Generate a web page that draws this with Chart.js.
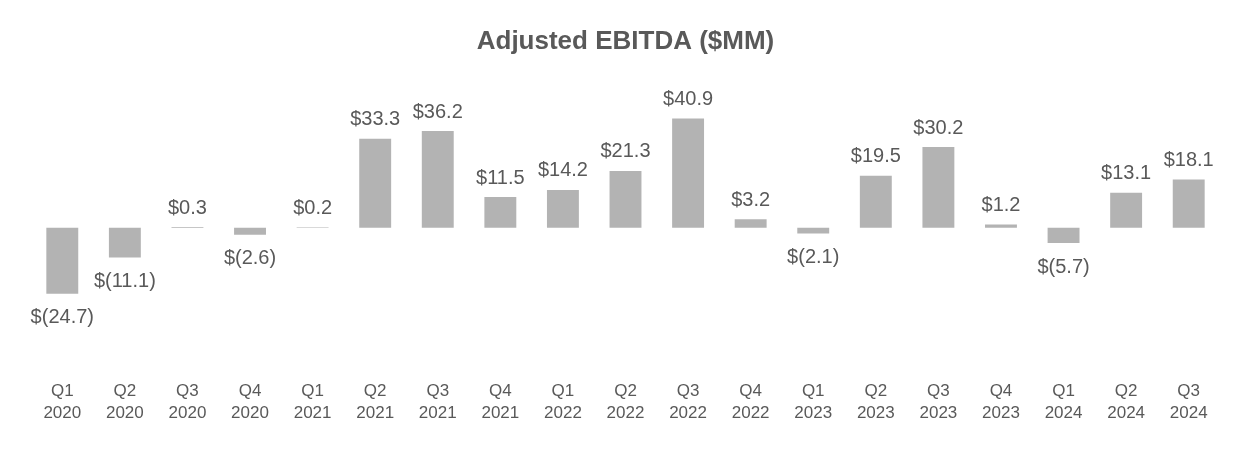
<!DOCTYPE html>
<html>
<head>
<meta charset="utf-8">
<script src="https://cdn.jsdelivr.net/npm/chart.js@4.4.0/dist/chart.umd.min.js"></script>
<style>
  html, body { margin: 0; padding: 0; background: #ffffff; }
  #wrap { width: 1250px; height: 450px; }
</style>
</head>
<body>
<div id="wrap"><canvas id="chart"></canvas></div>
<script>
// Quarters and years for the x axis
const quarters = ["Q1", "Q2", "Q3", "Q4", "Q1", "Q2", "Q3", "Q4", "Q1", "Q2", "Q3", "Q4", "Q1", "Q2", "Q3", "Q4", "Q1", "Q2", "Q3"];
const years = ["2020", "2020", "2020", "2020", "2021", "2021", "2021", "2021", "2022", "2022", "2022", "2022", "2023", "2023", "2023", "2023", "2024", "2024", "2024"];

// Adjusted EBITDA, $MM
const ebitda = [-24.7, -11.1, 0.3, -2.6, 0.2, 33.3, 36.2, 11.5, 14.2, 21.3, 40.9, 3.2, -2.1, 19.5, 30.2, 1.2, -5.7, 13.1, 18.1];

const textColor = "#595959";
const barColor = "#b3b3b3";

const labels = quarters.map((q, i) => [q, years[i]]);

// format like $12.3 or $(12.3)
const fmt = (v) => v < 0 ? "$(" + Math.abs(v).toFixed(1) + ")" : "$" + v.toFixed(1);

// value labels above positive bars, below negative bars
const valueLabels = {
    id: "valueLabels",
    afterDatasetsDraw(chart) {
        const ctx = chart.ctx;
        const meta = chart.getDatasetMeta(0);
        ctx.save();
        ctx.font = "20px 'Liberation Sans', Arial, sans-serif";
        ctx.fillStyle = textColor;
        ctx.textAlign = "center";
        ctx.textBaseline = "middle";
        meta.data.forEach((bar, i) => {
            const v = ebitda[i];
            const y = v >= 0 ? bar.y - 19 : bar.y + 24;
            ctx.fillText(fmt(v), bar.x, y);
        });
        ctx.restore();
    }
};

new Chart(document.getElementById("chart"), {
    type: "bar",
    plugins: [valueLabels],
    data: {
        labels: labels,
        datasets: [{
            data: ebitda,
            backgroundColor: barColor,
            borderWidth: 0,
            categoryPercentage: 1,
            barPercentage: 0.51
        }]
    },
    options: {
        responsive: true,
        maintainAspectRatio: false,
        animation: false,
        layout: { padding: { left: 31, right: 30, top: 26, bottom: 20 } },
        plugins: {
            legend: { display: false },
            tooltip: { enabled: false },
            title: {
                display: true,
                text: "Adjusted EBITDA ($MM)",
                color: textColor,
                font: { family: "'Liberation Sans', Arial, sans-serif", size: 26, weight: "bold" },
                padding: { top: 0, bottom: 37 }
            }
        },
        scales: {
            x: {
                grid: { display: false, drawTicks: false },
                border: { display: false },
                ticks: {
                    color: textColor,
                    font: { family: "'Liberation Sans', Arial, sans-serif", size: 17, lineHeight: 1.27 },
                    padding: 6,
                    maxRotation: 0,
                    autoSkip: false
                }
            },
            y: {
                display: false,
                min: -55,
                max: 50
            }
        }
    }
});
</script>
</body>
</html>
